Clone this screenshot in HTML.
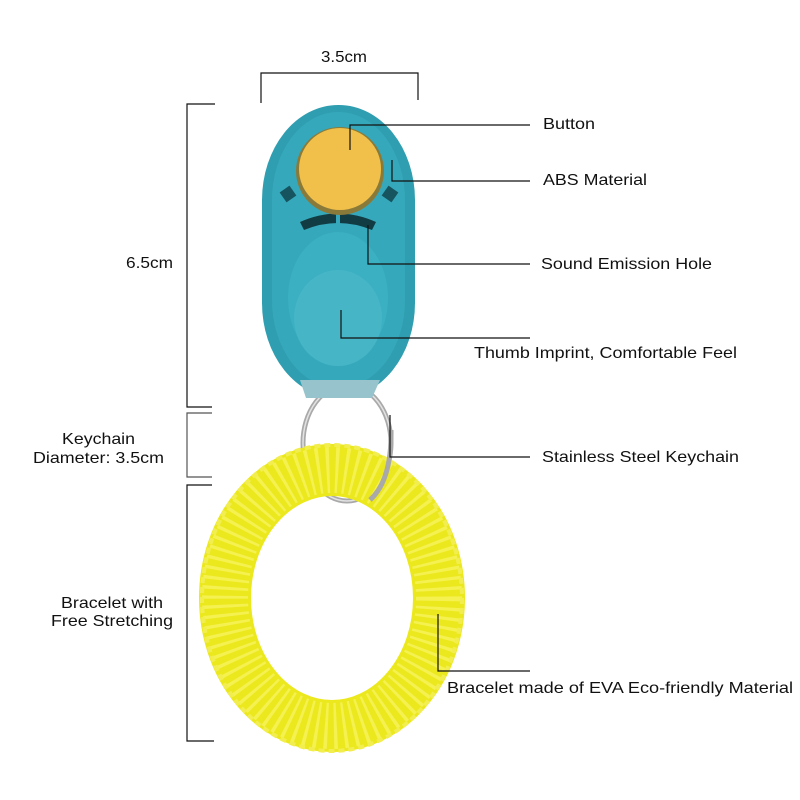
<!DOCTYPE html>
<html><head><meta charset="utf-8"><style>
body{margin:0;background:#fff;}
svg{display:block}
text{font-family:"Liberation Sans",sans-serif;font-size:16px;fill:#111}
</style></head><body>
<svg width="800" height="800" viewBox="0 0 800 800">
<rect width="800" height="800" fill="#fff"/>
<!-- ring -->
<ellipse cx="347" cy="443" rx="44" ry="58" fill="none" stroke="#a9a9a9" stroke-width="5"/>
<ellipse cx="347" cy="443" rx="44" ry="58" fill="none" stroke="#e2e2e2" stroke-width="1.5"/>
<!-- bracelet -->
<ellipse cx="332" cy="598" rx="107" ry="128" fill="none" stroke="#ece81e" stroke-width="52"/>
<ellipse cx="332" cy="598" rx="107" ry="128" fill="none" stroke="#f5f150" stroke-width="46" stroke-dasharray="3 6"/>
<ellipse cx="332" cy="598" rx="130" ry="153" fill="none" stroke="#f2ee50" stroke-width="4" stroke-dasharray="6 4"/>
<path d="M391 430 Q392 480 370 500" fill="none" stroke="#a9a9a9" stroke-width="5"/>
<!-- clicker -->
<rect x="262" y="105" width="153" height="293" rx="76" ry="95" fill="#2f9eb0"/>
<rect x="272" y="112" width="133" height="276" rx="66" ry="88" fill="#35a9bb"/>
<path d="M300 380 L380 380 L372 398 L306 398 Z" fill="#97c4cc"/>
<ellipse cx="338" cy="298" rx="50" ry="66" fill="#3bb0c2"/>
<ellipse cx="338" cy="318" rx="44" ry="48" fill="#46b5c6"/>
<path d="M300 222 Q338 205 376 222 L372 230 Q338 216 304 230 Z" fill="#123c44"/>
<rect x="336" y="212" width="4" height="20" fill="#35a9bb"/>
<rect x="282" y="188" width="12" height="12" fill="#165560" transform="rotate(-35 288 194)"/>
<rect x="384" y="188" width="12" height="12" fill="#165560" transform="rotate(35 390 194)"/>
<circle cx="340" cy="171" r="44" fill="#8a7a3a"/>
<circle cx="340" cy="169" r="41" fill="#f0c04a"/>
<!-- dimension lines -->
<g stroke="#111" stroke-width="1.2" fill="none">
<path d="M261 103 V73 H418 V100"/>
<path d="M215 104 H187 V407 H212"/>
<path d="M212 413 H187 V477 H212" stroke="#555"/>
<path d="M212 485 H187 V741 H214"/>
<path d="M350 150 V125 H530"/>
<path d="M392 160 V181 H530"/>
<path d="M368 225 V264 H530"/>
<path d="M341 310 V338 H530"/>
<path d="M390 415 V457 H530"/>
<path d="M438 614 V671 H530"/>
</g>
<text x="321" y="62" textLength="46" lengthAdjust="spacingAndGlyphs">3.5cm</text>
<text x="126" y="268" textLength="47" lengthAdjust="spacingAndGlyphs">6.5cm</text>
<text x="62" y="444" textLength="73" lengthAdjust="spacingAndGlyphs">Keychain</text>
<text x="33" y="463" textLength="131" lengthAdjust="spacingAndGlyphs">Diameter: 3.5cm</text>
<text x="61" y="608" textLength="102" lengthAdjust="spacingAndGlyphs">Bracelet with</text>
<text x="51" y="626" textLength="122" lengthAdjust="spacingAndGlyphs">Free Stretching</text>
<text x="543" y="129" textLength="52" lengthAdjust="spacingAndGlyphs">Button</text>
<text x="543" y="185" textLength="104" lengthAdjust="spacingAndGlyphs">ABS Material</text>
<text x="541" y="269" textLength="171" lengthAdjust="spacingAndGlyphs">Sound Emission Hole</text>
<text x="474" y="358" textLength="263" lengthAdjust="spacingAndGlyphs">Thumb Imprint, Comfortable Feel</text>
<text x="542" y="462" textLength="197" lengthAdjust="spacingAndGlyphs">Stainless Steel Keychain</text>
<text x="447" y="693" textLength="346" lengthAdjust="spacingAndGlyphs">Bracelet made of EVA Eco-friendly Material</text>
</svg>
</body></html>
